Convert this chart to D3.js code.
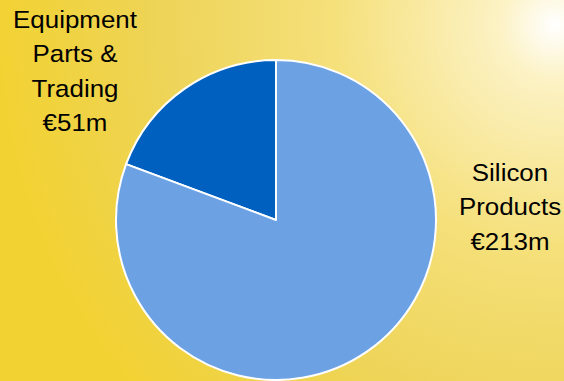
<!DOCTYPE html>
<meta charset="utf-8">
<style>
body { margin: 0; }
.lbl { font-family: "Liberation Sans", Arial, sans-serif; font-size: 24px; fill: #000; }
</style>
<svg width="564" height="381"></svg>
<script src="https://d3js.org/d3.v7.min.js"></script>
<script>

var segments = ["Equipment Parts & Trading", "Silicon Products"];
var values = [51, 213];
var labelLines = [["Equipment", "Parts &", "Trading", "€51m"], ["Silicon", "Products", "€213m"]];
var colors = ["#0060c0", "#6ca2e4"];

var svg = d3.select("svg"),
    width = +svg.attr("width"),
    height = +svg.attr("height");

// background glow
var defs = svg.append("defs");
var grad = defs.append("radialGradient")
    .attr("id", "bg")
    .attr("gradientUnits", "userSpaceOnUse")
    .attr("cx", 555).attr("cy", 25).attr("r", 560);
grad.append("stop").attr("offset", "0").attr("stop-color", "#ffffff");
grad.append("stop").attr("offset", "0.1").attr("stop-color", "#fcf2c4");
grad.append("stop").attr("offset", "0.4").attr("stop-color", "#f5e07a");
grad.append("stop").attr("offset", "0.7").attr("stop-color", "#eed458");
grad.append("stop").attr("offset", "1").attr("stop-color", "#f2d232");

svg.append("rect")
    .attr("width", width).attr("height", height)
    .attr("fill", "url(#bg)");

var cx = 276, cy = 220, r = 160;

var pie = d3.pie().sort(null)
    .startAngle(0).endAngle(-2 * Math.PI);   // counter clockwise from 12 o'clock

var arc = d3.arc().innerRadius(0).outerRadius(r);

var g = svg.append("g").attr("transform", "translate(" + cx + "," + cy + ")");

g.selectAll("path")
  .data(pie(values))
  .enter().append("path")
    .attr("d", arc)
    .attr("fill", function(d, i) { return colors[i]; })
    .attr("stroke", "#fff")
    .attr("stroke-width", 2)
    .attr("stroke-linejoin", "round");

// labels (text in the original is a bit wide, so stretch it)
var labelPos = [[75, 28], [510, 181]];
var lineH = 34.5;

labelLines.forEach(function(lines, i) {
  var t = svg.append("text")
      .attr("class", "lbl")
      .attr("text-anchor", "middle")
      .attr("transform", "translate(" + labelPos[i][0] + "," + labelPos[i][1] + ") scale(1.08,1)");
  lines.forEach(function(s, j) {
    t.append("tspan")
      .attr("x", 0)
      .attr("dy", j ? lineH : 0)
      .text(s);
  });
});

</script>
